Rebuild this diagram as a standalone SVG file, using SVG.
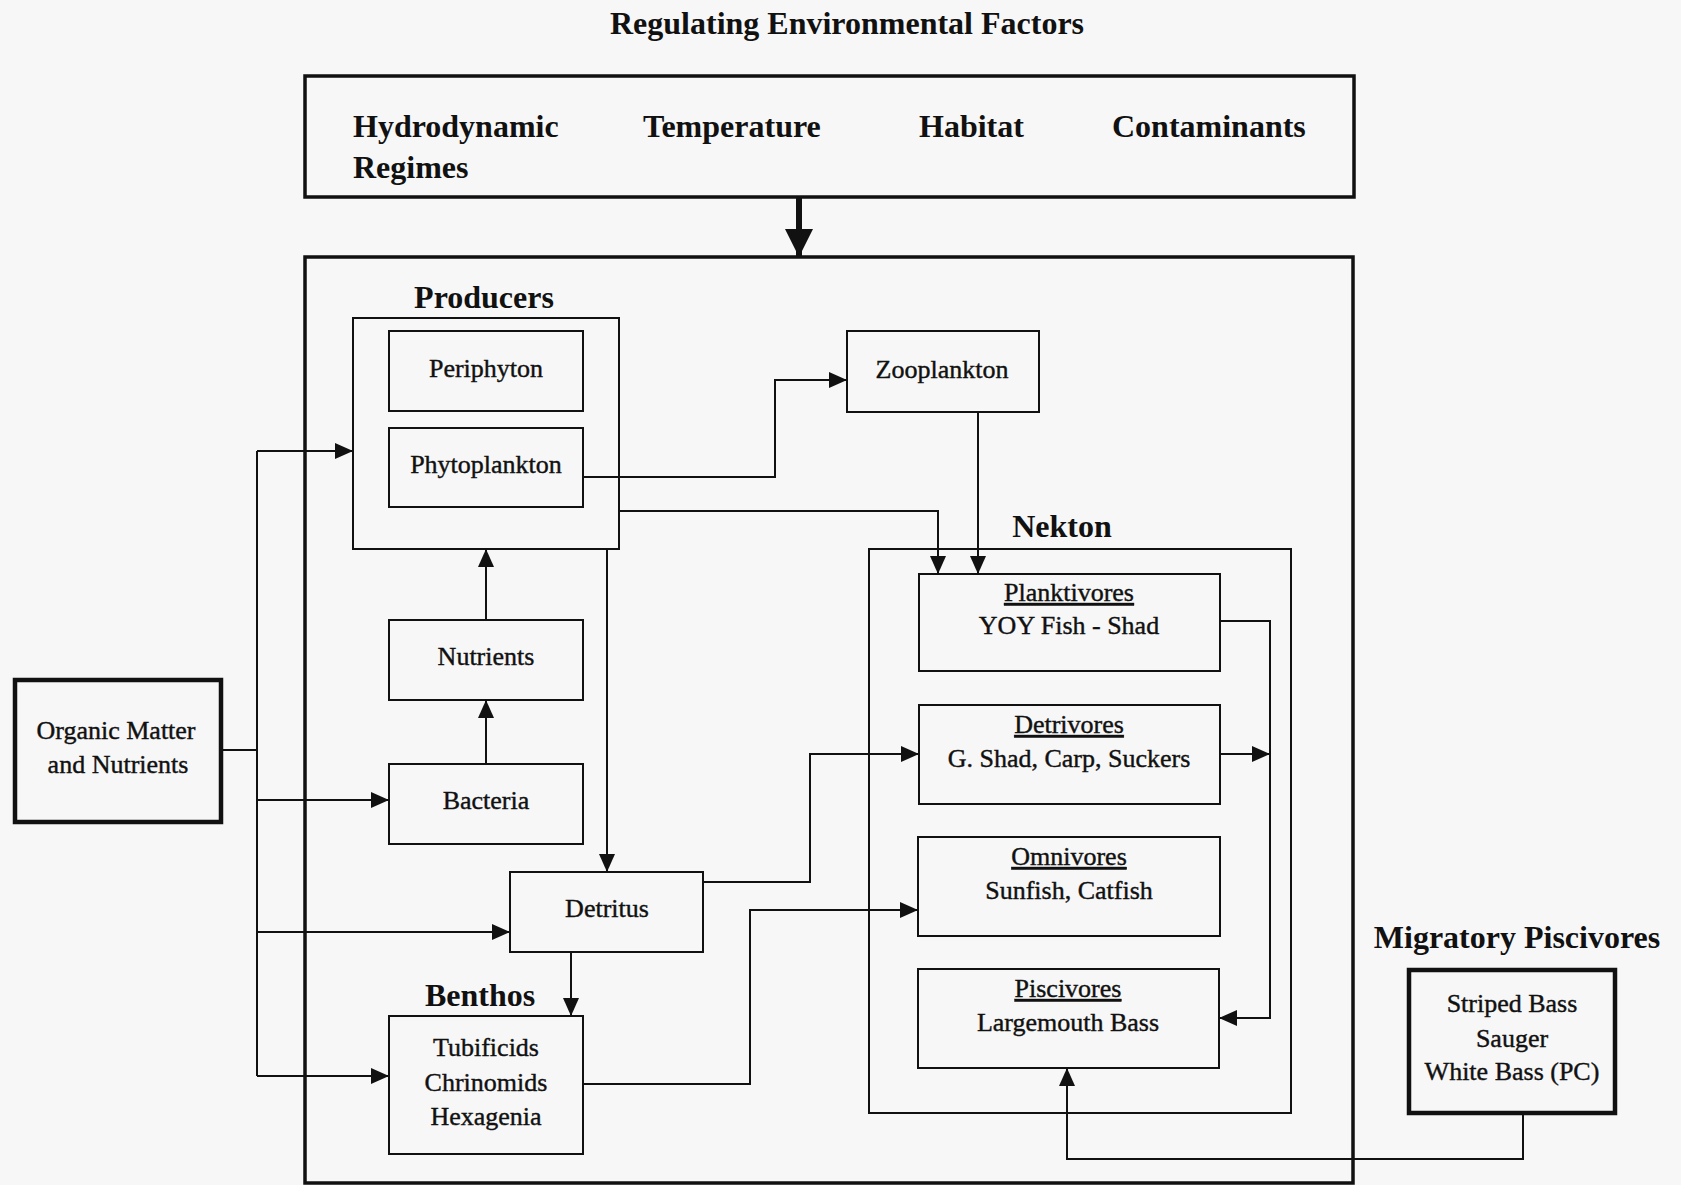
<svg xmlns="http://www.w3.org/2000/svg" width="1681" height="1185" viewBox="0 0 1681 1185">
<style>
.hdr{font-family:"Liberation Serif","Times New Roman",serif;font-weight:bold;font-size:32px;fill:#111;}
.lbl{font-family:"Liberation Serif","Times New Roman",serif;font-size:26px;fill:#111;stroke:#111;stroke-width:0.4px;text-anchor:middle;}
.box{fill:none;stroke:#111;stroke-width:2px;}
.thick{fill:none;stroke:#111;stroke-width:4.5px;}
.frame{fill:none;stroke:#111;stroke-width:3.5px;}
.con{fill:none;stroke:#111;stroke-width:2px;}
.ul{text-decoration:underline;}
</style>
<defs>
<marker id="ah" markerUnits="userSpaceOnUse" markerWidth="18" markerHeight="16" refX="18" refY="8" orient="auto">
<path d="M0,0 L18,8 L0,16 z" fill="#111"/>
</marker>
<marker id="bigah" markerUnits="userSpaceOnUse" markerWidth="28" markerHeight="28" refX="28" refY="14" orient="auto">
<path d="M0,0 L28,14 L0,28 z" fill="#111"/>
</marker>
</defs>
<rect width="1681" height="1185" fill="#f7f7f7"/>

<text class="hdr" x="847" y="34" text-anchor="middle">Regulating Environmental Factors</text>

<g id="regulating">
<rect class="frame" x="305" y="76" width="1049" height="121"/>
<text class="hdr" x="353" y="137">Hydrodynamic</text>
<text class="hdr" x="353" y="178">Regimes</text>
<text class="hdr" x="643" y="137">Temperature</text>
<text class="hdr" x="919" y="137">Habitat</text>
<text class="hdr" x="1112" y="137">Contaminants</text>
</g>

<g id="system">
<rect class="frame" x="305" y="257" width="1048" height="926"/>
</g>

<g id="producers">
<text class="hdr" x="484" y="308" text-anchor="middle">Producers</text>
<rect class="box" x="353" y="318" width="266" height="231"/>
</g>
<g id="periphyton">
<rect class="box" x="389" y="331" width="194" height="80"/>
<text class="lbl" x="486" y="377">Periphyton</text>
</g>
<g id="phytoplankton">
<rect class="box" x="389" y="428" width="194" height="79"/>
<text class="lbl" x="486" y="473">Phytoplankton</text>
</g>
<g id="zooplankton">
<rect class="box" x="847" y="331" width="192" height="81"/>
<text class="lbl" x="942" y="378">Zooplankton</text>
</g>
<g id="nutrients">
<rect class="box" x="389" y="620" width="194" height="80"/>
<text class="lbl" x="486" y="665">Nutrients</text>
</g>
<g id="bacteria">
<rect class="box" x="389" y="764" width="194" height="80"/>
<text class="lbl" x="486" y="809">Bacteria</text>
</g>
<g id="detritus">
<rect class="box" x="510" y="872" width="193" height="80"/>
<text class="lbl" x="607" y="917">Detritus</text>
</g>
<g id="benthos">
<text class="hdr" x="480" y="1006" text-anchor="middle">Benthos</text>
<rect class="box" x="389" y="1016" width="194" height="138"/>
<text class="lbl" x="486" y="1056">Tubificids</text>
<text class="lbl" x="486" y="1091">Chrinomids</text>
<text class="lbl" x="486" y="1125">Hexagenia</text>
</g>
<g id="organic">
<rect class="thick" x="15" y="680" width="206" height="142"/>
<text class="lbl" x="116" y="739">Organic Matter</text>
<text class="lbl" x="118" y="773">and Nutrients</text>
</g>
<g id="nekton">
<text class="hdr" x="1062" y="537" text-anchor="middle">Nekton</text>
<rect class="box" x="869" y="549" width="422" height="564"/>
</g>
<g id="planktivores">
<rect class="box" x="919" y="574" width="301" height="97"/>
<text class="lbl ul" x="1069" y="601">Planktivores</text>
<text class="lbl" x="1069" y="634">YOY Fish - Shad</text>
</g>
<g id="detrivores">
<rect class="box" x="919" y="705" width="301" height="99"/>
<text class="lbl ul" x="1069" y="733">Detrivores</text>
<text class="lbl" x="1069" y="767">G. Shad, Carp, Suckers</text>
</g>
<g id="omnivores">
<rect class="box" x="918" y="837" width="302" height="99"/>
<text class="lbl ul" x="1069" y="865">Omnivores</text>
<text class="lbl" x="1069" y="899">Sunfish, Catfish</text>
</g>
<g id="piscivores">
<rect class="box" x="918" y="969" width="301" height="99"/>
<text class="lbl ul" x="1068" y="997">Piscivores</text>
<text class="lbl" x="1068" y="1031">Largemouth Bass</text>
</g>
<g id="migratory">
<text class="hdr" x="1517" y="948" text-anchor="middle">Migratory Piscivores</text>
<rect class="thick" x="1409" y="970" width="206" height="143"/>
<text class="lbl" x="1512" y="1012">Striped Bass</text>
<text class="lbl" x="1512" y="1047">Sauger</text>
<text class="lbl" x="1512" y="1080">White Bass (PC)</text>
</g>

<g id="connectors">
<line x1="799" y1="197" x2="799" y2="257" stroke="#111" stroke-width="6" marker-end="url(#bigah)"/>
<polyline class="con" points="221,750 257,750"/>
<line class="con" x1="257" y1="451" x2="257" y2="1076"/>
<polyline class="con" points="257,451 353,451" marker-end="url(#ah)"/>
<polyline class="con" points="257,800 389,800" marker-end="url(#ah)"/>
<polyline class="con" points="257,932 510,932" marker-end="url(#ah)"/>
<polyline class="con" points="257,1076 389,1076" marker-end="url(#ah)"/>
<polyline class="con" points="486,620 486,549" marker-end="url(#ah)"/>
<polyline class="con" points="486,764 486,700" marker-end="url(#ah)"/>
<polyline class="con" points="607,549 607,872" marker-end="url(#ah)"/>
<polyline class="con" points="583,477 775,477 775,380 847,380" marker-end="url(#ah)"/>
<polyline class="con" points="619,511 938,511 938,574" marker-end="url(#ah)"/>
<polyline class="con" points="978,412 978,574" marker-end="url(#ah)"/>
<polyline class="con" points="571,952 571,1016" marker-end="url(#ah)"/>
<polyline class="con" points="703,882 810,882 810,754 919,754" marker-end="url(#ah)"/>
<polyline class="con" points="583,1084 750,1084 750,910 918,910" marker-end="url(#ah)"/>
<polyline class="con" points="1220,621 1270,621 1270,1018 1219,1018" marker-end="url(#ah)"/>
<polyline class="con" points="1220,754 1270,754" marker-end="url(#ah)"/>
<polyline class="con" points="1523,1113 1523,1159 1067,1159 1067,1068" marker-end="url(#ah)"/>
</g>
</svg>
